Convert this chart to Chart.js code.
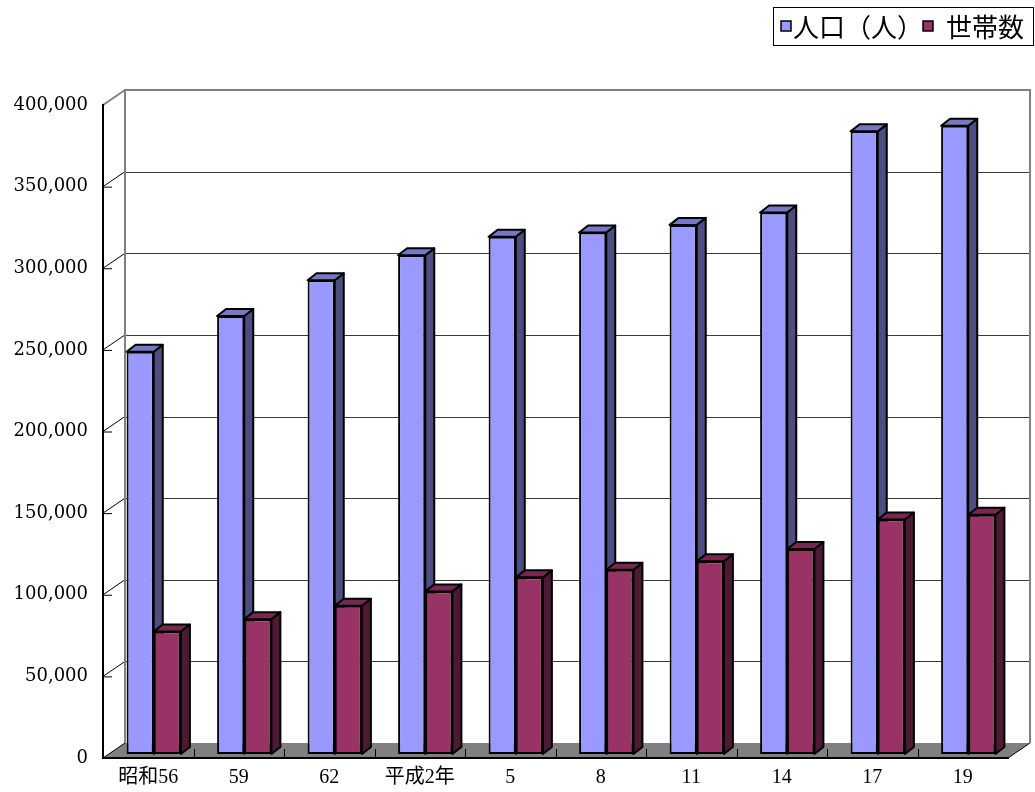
<!DOCTYPE html>
<html>
<head>
<meta charset="utf-8">
<script src="https://cdn.jsdelivr.net/npm/chart.js@4/dist/chart.umd.min.js"></script>
<style>
  body { margin: 0; background: #fff; }
  #box { width: 1035px; height: 792px; }
</style>
</head>
<body>
<div id="box"><canvas id="grafico" width="1035" height="792"></canvas></div>
<script>
// 年次
const categorias = ['昭和56', '59', '62', '平成2年', '5', '8', '11', '14', '17', '19'];
// 人口（人）
const populacao = [246400, 268300, 290200, 305500, 316800, 319400, 324100, 331700, 381400, 384800];
// 世帯数
const domicilios = [75000, 82600, 90800, 99600, 108200, 112900, 118000, 125600, 143600, 146600];
const yMax = 400000;
const yPasso = 50000;

// profundidade das paredes e das barras
const PAREDE_DX = 22, PAREDE_DY = -15;
const BARRA_SX = 5.5, BARRA_SY = -4;
const BARRA_DX = 9, BARRA_DY = -7;

const cores = {
    '人口（人）': { frente: '#9999FF', topo: '#7777C4', lado: '#4D4D80' },
    '世帯数': { frente: '#993366', topo: '#762850', lado: '#4D1A33' }
};

const fundo3d = {
    id: 'fundo3d',
    beforeDraw(chart) {
        const ctx = chart.ctx;
        const area = chart.chartArea;
        const y = chart.scales.y;
        ctx.save();
        // chao
        ctx.fillStyle = '#808080';
        ctx.beginPath();
        ctx.moveTo(area.left, area.bottom);
        ctx.lineTo(area.left + PAREDE_DX, area.bottom + PAREDE_DY);
        ctx.lineTo(area.right + PAREDE_DX, area.bottom + PAREDE_DY);
        ctx.lineTo(area.right, area.bottom);
        ctx.closePath();
        ctx.fill();
        ctx.strokeStyle = '#000';
        ctx.lineWidth = 1;
        ctx.beginPath();
        ctx.moveTo(area.right, area.bottom);
        ctx.lineTo(area.right + PAREDE_DX, area.bottom + PAREDE_DY);
        ctx.stroke();

        // linhas de grade na parede do fundo
        for (let v = yPasso; v < yMax; v += yPasso) {
            const py = Math.round(y.getPixelForValue(v) + PAREDE_DY) + 0.5;
            ctx.strokeStyle = '#3a3a3a';
            ctx.lineWidth = 1;
            ctx.beginPath();
            ctx.moveTo(area.left + PAREDE_DX, py);
            ctx.lineTo(area.right + PAREDE_DX, py);
            ctx.stroke();
        }
        // diagonais da parede esquerda
        for (let v = 0; v <= yMax; v += yPasso) {
            const py = y.getPixelForValue(v);
            ctx.strokeStyle = v === yMax ? '#808080' : '#000';
            ctx.lineWidth = v === yMax ? 2 : 1;
            ctx.beginPath();
            ctx.moveTo(area.left, py);
            ctx.lineTo(area.left + PAREDE_DX, py + PAREDE_DY);
            ctx.stroke();
            if (v !== yMax) {
                ctx.beginPath();
                ctx.moveTo(area.left, py + 0.5);
                ctx.lineTo(area.left + 9, py + 0.5);
                ctx.stroke();
            }
        }
        // contorno da parede do fundo
        ctx.strokeStyle = '#808080';
        ctx.lineWidth = 2;
        ctx.beginPath();
        ctx.moveTo(area.left + PAREDE_DX, area.bottom + PAREDE_DY);
        ctx.lineTo(area.left + PAREDE_DX, area.top + PAREDE_DY);
        ctx.lineTo(area.right + PAREDE_DX, area.top + PAREDE_DY);
        ctx.lineTo(area.right + PAREDE_DX, area.bottom + PAREDE_DY);
        ctx.stroke();
        ctx.restore();
    },
    beforeDatasetsDraw(chart) {
        const ctx = chart.ctx;
        const area = chart.chartArea;
        const x = chart.scales.x;
        ctx.save();
        // marcas entre categorias
        ctx.strokeStyle = '#000';
        ctx.lineWidth = 1;
        for (let i = 1; i < categorias.length; i++) {
            const px = Math.round(x.getPixelForValue(i - 0.5)) + 0.5;
            ctx.beginPath();
            ctx.moveTo(px, area.bottom);
            ctx.lineTo(px, area.bottom - 9);
            ctx.stroke();
        }
        // barras em 3D
        ctx.translate(BARRA_SX, BARRA_SY);
        ctx.lineJoin = 'round';
        ctx.lineWidth = 2;
        ctx.strokeStyle = '#000';
        for (let i = 0; i < categorias.length; i++) {
            chart.data.datasets.forEach((ds, d) => {
                const el = chart.getDatasetMeta(d).data[i];
                const p = el.getProps(['x', 'y', 'base', 'width'], true);
                const xl = p.x - p.width / 2, xr = p.x + p.width / 2;
                const c = cores[ds.label];
                // lado
                ctx.fillStyle = c.lado;
                ctx.beginPath();
                ctx.moveTo(xr, p.y);
                ctx.lineTo(xr + BARRA_DX, p.y + BARRA_DY);
                ctx.lineTo(xr + BARRA_DX, p.base + BARRA_DY);
                ctx.lineTo(xr, p.base);
                ctx.closePath();
                ctx.fill();
                ctx.stroke();
                // topo
                ctx.fillStyle = c.topo;
                ctx.beginPath();
                ctx.moveTo(xl, p.y);
                ctx.lineTo(xl + BARRA_DX, p.y + BARRA_DY);
                ctx.lineTo(xr + BARRA_DX, p.y + BARRA_DY);
                ctx.lineTo(xr, p.y);
                ctx.closePath();
                ctx.fill();
                ctx.stroke();
                // frente
                el.draw(ctx);
            });
        }
        ctx.restore();
        return false;
    },
    afterDraw(chart) {
        // legenda com moldura
        const ctx = chart.ctx;
        ctx.save();
        ctx.fillStyle = '#fff';
        ctx.fillRect(773, 7, 260, 38);
        ctx.strokeStyle = '#000';
        ctx.lineWidth = 1;
        ctx.strokeRect(773.5, 7.5, 260, 38);
        ctx.font = '26px "Noto Sans CJK JP"';
        ctx.textBaseline = 'middle';
        const quadrados = [781, 923];
        const textos = [793, 946];
        chart.data.datasets.forEach((ds, d) => {
            const lx = quadrados[d];
            ctx.fillStyle = cores[ds.label].frente;
            ctx.fillRect(lx, 21, 10, 10);
            ctx.lineWidth = 1.5;
            ctx.strokeRect(lx, 21, 10, 10);
            ctx.fillStyle = '#000';
            ctx.fillText(ds.label, textos[d], 27);
        });
        ctx.restore();
    }
};

const $grafico = document.getElementById('grafico');
const grafico = new Chart($grafico, {
    type: 'bar',
    data: {
        labels: categorias,
        datasets: [{
            label: '人口（人）',
            data: populacao,
            backgroundColor: cores['人口（人）'].frente,
            borderColor: '#000',
            borderWidth: 2,
            borderSkipped: false
        }, {
            label: '世帯数',
            data: domicilios,
            backgroundColor: cores['世帯数'].frente,
            borderColor: '#000',
            borderWidth: 2,
            borderSkipped: false
        }]
    },
    options: {
        responsive: false,
        animation: false,
        devicePixelRatio: 1,
        layout: { padding: { left: 0, right: 27, top: 105, bottom: 0 } },
        categoryPercentage: 0.6,
        barPercentage: 1.0,
        plugins: {
            legend: { display: false },
            tooltip: { enabled: false }
        },
        scales: {
            x: {
                grid: { display: false, drawTicks: false },
                border: { display: true, color: '#000', width: 2 },
                ticks: {
                    color: '#000',
                    padding: 8,
                    maxRotation: 0,
                    font: { family: '"Liberation Serif", "Noto Sans CJK JP"', size: 20 }
                },
                afterFit(scale) { scale.height = 34; }
            },
            y: {
                min: 0,
                max: yMax,
                grid: { display: false, drawTicks: false },
                border: { display: true, color: '#000', width: 2 },
                ticks: {
                    stepSize: yPasso,
                    color: '#000',
                    padding: 15,
                    font: { family: '"DejaVu Serif"', size: 18 },
                    callback: valor => valor.toLocaleString('en-US')
                },
                afterFit(scale) { scale.width = 103; }
            }
        }
    },
    plugins: [fundo3d]
});
</script>
</body>
</html>
